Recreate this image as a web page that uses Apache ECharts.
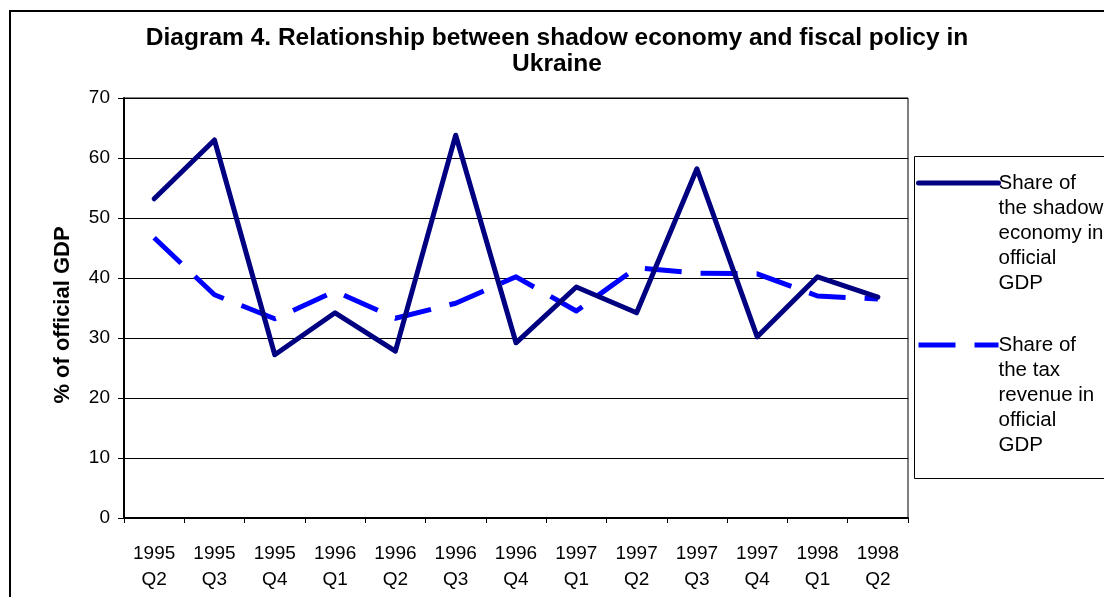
<!DOCTYPE html>
<html>
<head>
<meta charset="utf-8">
<script src="https://cdn.jsdelivr.net/npm/echarts@6/dist/echarts.min.js"></script>
<style>
html,body{margin:0;padding:0;background:#fff;}
#chart{width:1104px;height:597px;}
</style>
</head>
<body>
<div id="chart"></div>
<script>
var titleText = 'Diagram 4. Relationship between shadow economy and fiscal policy in\nUkraine';
var yAxisName = '% of official GDP';
var categories = ['1995\nQ2','1995\nQ3','1995\nQ4','1996\nQ1','1996\nQ2','1996\nQ3','1996\nQ4','1997\nQ1','1997\nQ2','1997\nQ3','1997\nQ4','1998\nQ1','1998\nQ2'];
var shadowName = 'Share of\nthe shadow\neconomy in\nofficial\nGDP';
var taxName = 'Share of\nthe tax\nrevenue in\nofficial\nGDP';
var shadowValues = [53.2, 63.0, 27.2, 34.2, 27.8, 63.8, 29.2, 38.5, 34.2, 58.2, 30.2, 40.2, 36.8];
var taxValues = [46.7, 37.2, 33.2, 37.8, 33.3, 35.8, 40.2, 34.5, 41.7, 40.8, 40.7, 37.0, 36.5];
var yTicks = {min: 0, max: 70, interval: 10};

var FONT = '"Liberation Sans", Arial, sans-serif';
var chart = echarts.init(document.getElementById('chart'), null, {renderer: 'canvas'});
chart.setOption({
  animation: false,
  backgroundColor: '#fff',
  textStyle: {fontFamily: FONT, color: '#000'},
  title: {
    text: titleText,
    left: 557,
    textAlign: 'center',
    top: 25,
    padding: 0,
    textStyle: {fontFamily: FONT, fontSize: 24.5, fontWeight: 'bold', color: '#000', lineHeight: 26}
  },
  graphic: [
    {type: 'rect', shape: {x: 10, y: 11, width: 1110, height: 600}, style: {fill: 'none', stroke: '#000', lineWidth: 2}, z: -1},
    {type: 'rect', shape: {x: 914.5, y: 156.5, width: 300, height: 322}, style: {fill: 'none', stroke: '#000', lineWidth: 1}, z: -1}
  ],
  legend: {
    orient: 'vertical',
    left: 916,
    top: 70.5,
    padding: 0,
    itemGap: -63,
    itemWidth: 80,
    itemHeight: 5,
    itemStyle: {opacity: 0},
    lineStyle: {width: 5},
    formatter: function (name) { return '\n\n\n\n' + name; },
    textStyle: {fontFamily: FONT, fontSize: 20.5, lineHeight: 25, color: '#000', padding: [0, 0, 0, -5]},
    data: [shadowName, taxName]
  },
  grid: {left: 124, right: 196, top: 98, bottom: 79, show: true, borderColor: '#000', borderWidth: 1, backgroundColor: 'transparent'},
  xAxis: {
    type: 'category',
    data: categories,
    boundaryGap: true,
    axisLine: {lineStyle: {color: '#000', width: 2}},
    axisTick: {show: true, length: 5, lineStyle: {color: '#000', width: 1}},
    axisLabel: {fontFamily: FONT, fontSize: 19, lineHeight: 26, color: '#000', margin: 23, interval: 0}
  },
  yAxis: {
    type: 'value',
    min: yTicks.min, max: yTicks.max, interval: yTicks.interval,
    name: yAxisName,
    nameLocation: 'middle',
    nameGap: 50,
    nameTextStyle: {fontFamily: FONT, fontSize: 22, fontWeight: 'bold', color: '#000', padding: [0, 14, 0, 0]},
    axisLine: {show: true, lineStyle: {color: '#000', width: 2}},
    axisTick: {show: true, length: 6, lineStyle: {color: '#000', width: 1}},
    axisLabel: {fontFamily: FONT, fontSize: 19, color: '#000', margin: 14},
    splitLine: {show: true, lineStyle: {color: '#000', width: 1}}
  },
  series: [
    {
      name: shadowName,
      type: 'line',
      data: shadowValues,
      symbol: 'none',
      lineStyle: {color: '#000080', width: 5, cap: 'round', join: 'round'},
      itemStyle: {color: '#000080'},
      z: 3
    },
    {
      name: taxName,
      type: 'line',
      data: taxValues,
      symbol: 'none',
      lineStyle: {color: '#0000FF', width: 5, type: [37, 19], join: 'round'},
      itemStyle: {color: '#0000FF'},
      z: 2
    }
  ]
});
</script>
</body>
</html>
